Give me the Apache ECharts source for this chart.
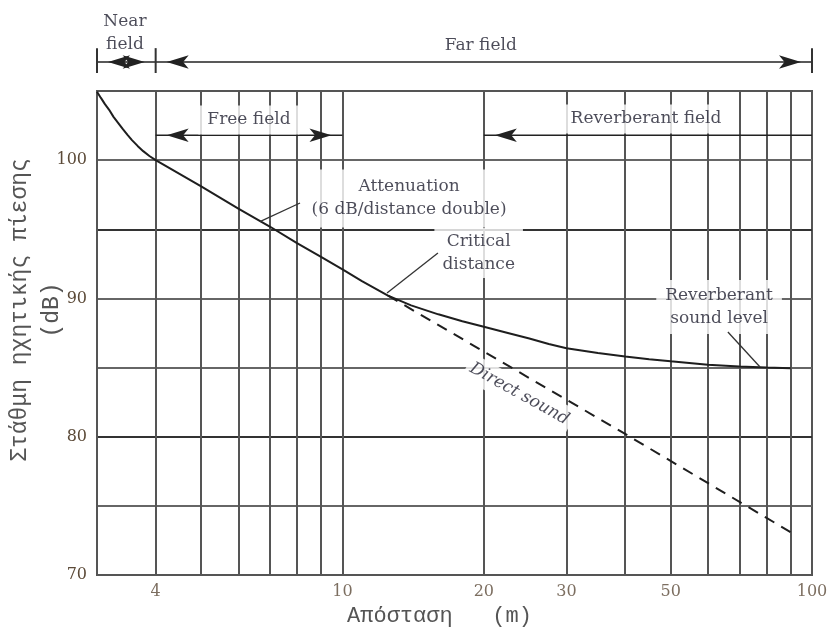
<!DOCTYPE html>
<html><head><meta charset="utf-8">
<script src="https://cdn.jsdelivr.net/npm/echarts@6/dist/echarts.min.js"></script>
<style>html,body{margin:0;padding:0;background:#fff}#c{width:829px;height:628px}</style>
</head><body><div id="c"></div>
<script>
// ---------- data ----------
const distance   = [3, 3.058, 3.119, 3.184, 3.253, 3.33, 3.406, 3.484, 3.561, 3.661, 3.763, 3.879, 4,
                    5, 6, 7, 8, 9, 10, 11, 12.5, 14, 16, 18, 20, 22.5, 25, 27.5, 30, 35, 40, 45, 50, 60, 70, 80, 90];
const totalLevel = [104.95, 104.5, 104.05, 103.64, 103.13, 102.68, 102.24, 101.83, 101.45, 101.03, 100.65, 100.3, 100,
                    98.1, 96.5, 95.2, 94.0, 93.0, 92.1, 91.25, 90.2, 89.5, 88.85, 88.35, 87.95, 87.5, 87.1, 86.7, 86.4, 86.05, 85.8, 85.6, 85.45, 85.2, 85.08, 85.0, 84.95];
const directDistance = [12.5, 40, 90];
const directLevel    = [90.2, 80.2, 73.1];

const gridDistances = [4, 5, 6, 7, 8, 9, 10, 20, 30, 40, 50, 60, 70, 80, 90];
const xTickLabels   = [4, 10, 20, 30, 50, 100];
const yTickLabels   = [70, 80, 90, 100];
const yMin = 70, yMax = 105, yStep = 5;
const xMin = 3, xMax = 100;

// region spans (distance) and levels (dB) for the field arrows
const nearFieldSpan  = [3, 4];
const farFieldSpan   = [4, 100];
const fieldArrowLevel = 107.1;
const fieldBarX      = [3, 4, 100];
const fieldBarLevels = [106.3, 108.1];
const freeFieldSpan  = [4, 10];
const reverbFieldSpan = [20, 100];
const subFieldLevel  = 101.8;

// annotation texts and their anchors [distance, dB]
const annoTexts   = ['Near\nfield', 'Far field', 'Free field', 'Reverberant field',
                     'Attenuation\n(6 dB/distance double)', 'Critical\ndistance',
                     'Reverberant\nsound level', 'Direct sound'];
const annoAnchors = [[3.44, 109.2], [19.7, 108.25], [6.32, 102.9], [44.3, 102.98],
                     [13.86, 97.23], [19.5, 93.29], [63.4, 89.38], [23.8, 83.09]];
// leader lines [from, to]
const leaders = [
  [[8.12, 96.9], [6.67, 95.55]],
  [[15.97, 93.29], [12.44, 90.39]],
  [[66.2, 87.57], [77.5, 85.04]]
];

// ---------- styles ----------
const INK = '#1f1f2f';
const GRIDC = '#555';
const SERIF = 'DejaVu Serif';
const MONO = 'Liberation Mono';

function arrowItem(x, y, dir) {
  return {
    value: [x, y], symbol: 'arrow', symbolSize: [10, 22],
    symbolRotate: dir === 'left' ? 90 : -90,
    symbolOffset: [dir === 'left' ? 11 : -11, 0]
  };
}
function plainItem(x, y) { return { value: [x, y], symbol: 'none' }; }
function segSeries(data, extra) {
  return Object.assign({
    type: 'line', data: data, clip: false, silent: true, animation: false,
    showSymbol: true, showAllSymbol: true, symbol: 'none', z: 6,
    lineStyle: { color: '#222', width: 1.5 }, itemStyle: { color: '#222' }
  }, extra || {});
}

const series = [];

// vertical grid lines
series.push({
  type: 'line', data: [], silent: true, animation: false,
  markLine: {
    silent: true, symbol: ['none', 'none'], animation: false, z: 1,
    label: { show: false },
    lineStyle: { color: GRIDC, width: 2, type: 'solid' },
    data: gridDistances.map(d => ({ xAxis: d }))
  }
});

// total level curve
series.push({
  type: 'line', name: 'total', z: 4, animation: false, silent: true,
  data: distance.map((d, i) => [d, totalLevel[i]]),
  symbol: 'none', smooth: false,
  lineStyle: { color: '#1e1e1e', width: 2 }
});
// direct sound
series.push({
  type: 'line', name: 'direct', z: 4, animation: false, silent: true,
  data: directDistance.map((d, i) => [d, directLevel[i]]),
  symbol: 'none',
  lineStyle: { color: '#1e1e1e', width: 2, type: [11, 8] }
});

// near / far field arrows above the plot
series.push(segSeries([arrowItem(nearFieldSpan[0], fieldArrowLevel, 'left'), arrowItem(nearFieldSpan[1], fieldArrowLevel, 'right')]));
series.push(segSeries([arrowItem(farFieldSpan[0], fieldArrowLevel, 'left'), arrowItem(farFieldSpan[1], fieldArrowLevel, 'right')]));
fieldBarX.forEach(x => series.push(segSeries([plainItem(x, fieldBarLevels[0]), plainItem(x, fieldBarLevels[1])], { lineStyle: { color: '#333', width: 2 } })));
// free field / reverberant field arrows
series.push(segSeries([arrowItem(freeFieldSpan[0], subFieldLevel, 'left'), arrowItem(freeFieldSpan[1], subFieldLevel, 'right')]));
series.push(segSeries([arrowItem(reverbFieldSpan[0], subFieldLevel, 'left'), plainItem(reverbFieldSpan[1], subFieldLevel)]));
// leaders
leaders.forEach(l => series.push(segSeries([plainItem(l[0][0], l[0][1]), plainItem(l[1][0], l[1][1])], { z: 12, lineStyle: { color: '#333', width: 1.3 } })));

// annotation labels
const boxStyles = [
  null, null,
  { padding: [3, 9] }, { padding: [3, 9] },
  { padding: [6, 8] }, { padding: [2, 8] },
  { padding: [4, 9] }, { padding: [2, 4], rotate: -29, fontStyle: 'italic' }
];
series.push({
  type: 'scatter', z: 10, clip: false, silent: true, animation: false,
  symbolSize: 0.1, itemStyle: { color: 'rgba(0,0,0,0)' },
  data: annoTexts.map((t, i) => {
    const b = boxStyles[i];
    const label = {
      show: true, position: 'inside', formatter: t,
      color: INK, fontFamily: SERIF, fontSize: 17, lineHeight: 23, align: 'center', verticalAlign: 'middle'
    };
    if (b) Object.assign(label, { backgroundColor: '#fff' }, b);
    return { value: annoAnchors[i], label: label };
  })
});

// x tick labels
series.push({
  type: 'scatter', z: 10, clip: false, silent: true, animation: false,
  symbolSize: 0.1, itemStyle: { color: 'rgba(0,0,0,0)' },
  data: xTickLabels.map(v => [v, yMin]),
  label: {
    show: true, position: 'bottom', distance: 9,
    formatter: p => String(p.value[0]),
    color: '#5b4a38', fontFamily: SERIF, fontSize: 16
  }
});

const chart = echarts.init(document.getElementById('c'), null, { renderer: 'canvas' });
chart.setOption({
  animation: false,
  backgroundColor: '#fff',
  grid: { left: 97, right: 17, top: 91, bottom: 53, show: true, borderColor: GRIDC, borderWidth: 2,
          backgroundColor: 'transparent', outerBoundsMode: 'none', containLabel: false },
  xAxis: {
    type: 'log', logBase: 10, min: xMin, max: xMax,
    name: 'Απόσταση   (m)', nameLocation: 'middle', nameGap: 30, nameMoveOverlap: false,
    nameTextStyle: { fontFamily: MONO, fontSize: 22, color: '#555', padding: [0, 30, 0, 0] },
    axisLine: { show: true, lineStyle: { color: GRIDC, width: 2 } },
    axisTick: { show: false }, axisLabel: { show: false }, splitLine: { show: false }
  },
  yAxis: {
    type: 'value', min: yMin, max: yMax, interval: yStep,
    name: 'Στάθμη ηχητικής πίεσης\n(dB)', nameLocation: 'middle', nameGap: 29, nameRotate: 90, nameMoveOverlap: false,
    nameTextStyle: { fontFamily: MONO, fontSize: 23, lineHeight: 32, color: '#555', padding: [0, 0, 0, 46] },
    axisLine: { show: true, lineStyle: { color: GRIDC, width: 2 } },
    axisTick: { show: false },
    axisLabel: {
      margin: 10, color: '#5b4a38', fontFamily: SERIF, fontSize: 16,
      formatter: v => (yTickLabels.indexOf(v) >= 0 ? String(v) : '')
    },
    splitLine: { show: true, lineStyle: { width: 2, color: ['#555', '#666', '#333', '#666', '#666', '#333', '#666', '#555'] } }
  },
  series: series
});
</script></body></html>
